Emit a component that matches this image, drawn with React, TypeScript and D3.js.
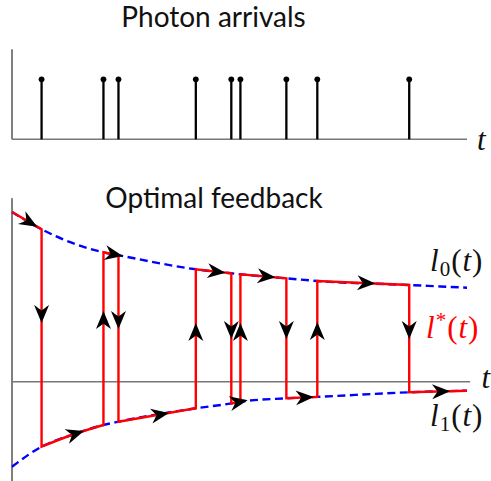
import React from "react";
import * as d3 from "d3";

// ---- data ----
const photonTimes = [0.65, 2.01, 2.34, 4.04, 4.82, 5.02, 6.03, 6.71, 8.73];
const sampleTimes = [0, 0.65, 1.31, 2.01, 2.34, 4.04, 4.82, 5.02, 6.03, 6.71, 8.73, 10];
const upperLevels = [1.697, 1.524, 1.39, 1.294, 1.265, 1.124, 1.084, 1.074, 1.034, 1.007, 0.967, 0.94];
const lowerLevels = [-0.85, -0.65, -0.533, -0.433, -0.4, -0.266, -0.217, -0.2, -0.166, -0.152, -0.106, -0.09];
const jumpArrowLevels = [0.677, 0.617, 0.617, 0.497, 0.517, 0.497, 0.517, 0.507, 0.517];
const stemHeight = 1;
const tDomain = [0, 10];

const W = 491;
const H = 481;

const ARROW = "M9,0 L-9,-7.5 Q-5,-2 -3.5,0 Q-5,2 -9,7.5 Z";

export default function App() {
  const x = d3.scaleLinear().domain(tDomain).range([12, 467]);
  const yTop = d3.scaleLinear().domain([0, 1.5]).range([139.3, 49.3]);
  const yB = d3.scaleLinear().domain([-1, 1.85]).range([481.7, 196.7]);

  const upper: [number, number][] = sampleTimes.map((t, i) => [t, upperLevels[i]]);
  const lower: [number, number][] = sampleTimes.map((t, i) => [t, lowerLevels[i]]);

  const line = d3
    .line<[number, number]>()
    .x((d) => x(d[0]))
    .y((d) => yB(d[1]))
    .curve(d3.curveMonotoneX);

  const breaks = [tDomain[0], ...photonTimes, tDomain[1]];
  let redPath = "";
  const hArrows: { cx: number; cy: number; ang: number }[] = [];
  for (let k = 0; k < breaks.length - 1; k++) {
    const a = breaks[k];
    const b = breaks[k + 1];
    const src = k % 2 === 0 ? upper : lower;
    const pts = src.filter((p) => p[0] >= a - 1e-9 && p[0] <= b + 1e-9);
    let s = line(pts) || "";
    if (k > 0) s = "L" + s.slice(1);
    redPath += s;
    const mid = (a + b) / 2;
    let i = 0;
    while (i < pts.length - 2 && pts[i + 1][0] < mid) i++;
    const p0 = pts[i];
    const p1 = pts[i + 1];
    const f = (mid - p0[0]) / (p1[0] - p0[0]);
    const px0 = x(p0[0]), py0 = yB(p0[1]);
    const px1 = x(p1[0]), py1 = yB(p1[1]);
    const ang = Math.atan2(py1 - py0, px1 - px0);
    const cx = px0 + f * (px1 - px0) + 3 * Math.cos(ang);
    const cy = py0 + f * (py1 - py0) + 3 * Math.sin(ang);
    hArrows.push({ cx, cy, ang: (ang * 180) / Math.PI });
  }

  const vArrows = photonTimes.map((t, j) => ({
    cx: x(t),
    cy: yB(jumpArrowLevels[j]),
    ang: j % 2 === 0 ? 90 : -90,
  }));

  const mathFont = "'Liberation Serif', 'Times New Roman', serif";
  const titleFont = "Lato, 'Open Sans', sans-serif";

  return (
    <svg
      width={W}
      height={H}
      style={{ position: "absolute", left: 0, top: 0, background: "#fff" }}
    >
      {/* ---------- top panel ---------- */}
      <text x={213.5} y={27.3} textAnchor="middle" fontFamily={titleFont} fontSize={28} fill="#111">
        Photon arrivals
      </text>
      <line x1={x(0)} x2={x(0)} y1={yTop(0)} y2={yTop(1.5)} stroke="#000" strokeWidth={1} />
      <line x1={x(0)} x2={x(10)} y1={yTop(0)} y2={yTop(0)} stroke="#777" strokeWidth={1.6} />
      {photonTimes.map((t, i) => (
        <g key={i}>
          <line x1={x(t)} x2={x(t)} y1={yTop(0)} y2={yTop(stemHeight)} stroke="#000" strokeWidth={2.3} />
          <circle cx={x(t)} cy={yTop(stemHeight)} r={2.9} fill="#000" />
        </g>
      ))}
      <text x={477} y={149.5} fontFamily={mathFont} fontStyle="italic" fontSize={31} fill="#111">
        t
      </text>

      {/* ---------- bottom panel ---------- */}
      <text x={214} y={207.7} textAnchor="middle" fontFamily={titleFont} fontSize={28} fill="#111">
        Optimal feedback
      </text>
      <line x1={x(0)} x2={x(0)} y1={yB(1.835)} y2={yB(-0.995)} stroke="#000" strokeWidth={1} />
      <line x1={x(0)} x2={x(10.07)} y1={yB(0)} y2={yB(0)} stroke="#777" strokeWidth={1.6} />

      <path d={line(upper) || ""} fill="none" stroke="#0000ff" strokeWidth={2.4} strokeDasharray="8,4.5" />
      <path d={line(lower) || ""} fill="none" stroke="#0000ff" strokeWidth={2.4} strokeDasharray="8,4.5" />
      <path d={redPath} fill="none" stroke="#ff0000" strokeWidth={2.4} strokeLinejoin="miter" />

      {hArrows.map((a, i) => (
        <path key={"h" + i} d={ARROW} fill="#000" transform={`translate(${a.cx},${a.cy}) rotate(${a.ang})`} />
      ))}
      {vArrows.map((a, i) => (
        <path key={"v" + i} d={ARROW} fill="#000" transform={`translate(${a.cx},${a.cy}) rotate(${a.ang})`} />
      ))}

      <text x={481.5} y={388} fontFamily={mathFont} fontStyle="italic" fontSize={31} fill="#111">
        t
      </text>
      <text x={430} y={270.5} fontFamily={mathFont} fontSize={31} fill="#111" letterSpacing={1}>
        <tspan fontStyle="italic">l</tspan>
        <tspan fontSize={21} dy={5}>0</tspan>
        <tspan dy={-5}>(</tspan>
        <tspan fontStyle="italic">t</tspan>
        <tspan>)</tspan>
      </text>
      <text x={426} y={337.5} fontFamily={mathFont} fontSize={31} fill="#ff0000" letterSpacing={1}>
        <tspan fontStyle="italic">l</tspan>
        <tspan fontSize={21} dy={-11}>*</tspan>
        <tspan dy={11}>(</tspan>
        <tspan fontStyle="italic">t</tspan>
        <tspan>)</tspan>
      </text>
      <text x={430} y={425.5} fontFamily={mathFont} fontSize={31} fill="#111" letterSpacing={1}>
        <tspan fontStyle="italic">l</tspan>
        <tspan fontSize={21} dy={5}>1</tspan>
        <tspan dy={-5}>(</tspan>
        <tspan fontStyle="italic">t</tspan>
        <tspan>)</tspan>
      </text>
    </svg>
  );
}
